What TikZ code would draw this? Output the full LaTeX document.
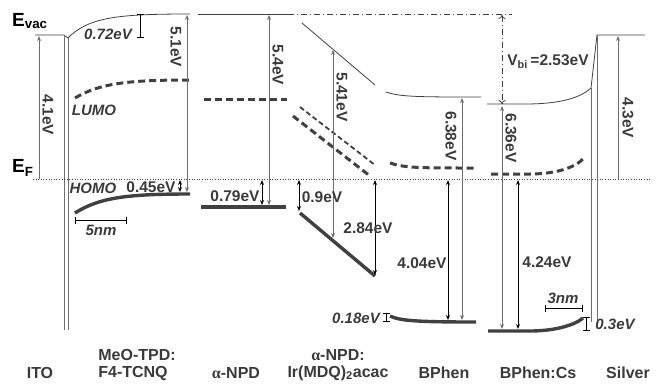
\documentclass[tikz,border=0pt]{standalone}
\usepackage{fontspec}
\setmainfont{Liberation Sans}
\newfontfamily\grk{Liberation Serif}
\usetikzlibrary{arrows.meta}
\definecolor{band}{HTML}{404040}
\definecolor{txt}{HTML}{3A3A3A}
\definecolor{vac}{HTML}{6E6E6E}
\tikzset{
  val/.style={font=\bfseries\fontsize{15.5}{17}\selectfont,text=txt,inner sep=0pt},
  ival/.style={val,font=\bfseries\itshape\fontsize{15}{17}\selectfont},
  rval/.style={val,rotate=-90},
  lyr/.style={font=\bfseries\fontsize{16}{18}\selectfont,text=txt,inner sep=0pt},
  homo/.style={band,line width=3.4pt},
  lumo/.style={band,line width=3pt,dash pattern=on 7pt off 4pt},
  dbl/.style={black,line width=1pt,{Stealth[length=5pt,width=4pt]}-{Stealth[length=5pt,width=4pt]}},
  gdbl/.style={vac,line width=1pt,{Stealth[length=5pt,width=4pt]}-{Stealth[length=5pt,width=4pt]}},
  gup/.style={vac,line width=1pt,-{Stealth[length=5pt,width=4pt]}},
  capbar/.style={black,line width=0.8pt,{Bar[width=7pt]}-{Bar[width=7pt]}},
}
\begin{document}
\begin{tikzpicture}[x=1pt,y=-1pt]
\useasboundingbox (0,0) rectangle (667,384);
% levels
\draw[band,line width=0.8pt] (35,35) -- (64,35) -- (68,38) -- (71,35) .. controls (92,17) and (120,14) .. (190,14);
\draw[band,line width=0.8pt] (198,14) -- (288,14);
\draw[band,line width=0.8pt,dash pattern=on 6pt off 3pt on 1pt off 3pt] (288,14) -- (512,14);
\draw[band,line width=0.8pt] (302,23) -- (375,85);
\draw[band,line width=0.8pt] (386,92) .. controls (400,97) and (420,97) .. (481,97);
\draw[band,line width=0.8pt] (487,104) -- (525,104) .. controls (560,104) and (580,98) .. (591,88) -- (597,35) -- (645,35);
\draw[vac,line width=1pt] (64,35) -- (64,330) (68,38) -- (68,330);
\draw[vac,line width=1pt] (591,88) -- (591,322) (597,35) -- (597,322);
\draw[band,line width=0.6pt,dotted] (33,179) -- (650,179);
\draw[lumo] (75,98) .. controls (100,83) and (130,80) .. (190,80);
\draw[lumo] (204,99) -- (287,99);
\draw[band,line width=1.8pt,dash pattern=on 5pt off 3pt] (300,107) -- (375,165);
\draw[lumo] (293,116) -- (370,176);
\draw[lumo] (390,163) .. controls (405,168) and (420,168) .. (474,168);
\draw[lumo] (491,174) -- (530,174) .. controls (555,174) and (575,168) .. (584,158);
\draw[homo] (75,213) .. controls (100,197) and (130,194) .. (190,194);
\draw[homo] (201,207) -- (286,207);
\draw[homo] (300,213) -- (375,276);
\draw[homo] (390,316) .. controls (400,321) and (420,322) .. (476,322);
\draw[homo] (488,331) -- (530,331) .. controls (555,331) and (575,325) .. (583,318);
% arrows
\draw[gup] (39,179) -- (39,36);
\draw[gdbl] (187,15) -- (187,192);
\draw[gdbl] (269,15) -- (269,205);
\draw[gdbl] (333,50) -- (333,238);
\draw[gdbl] (462,98) -- (462,320);
\draw[gdbl] (502,106) -- (502,329);
\draw[gup] (618,179) -- (618,36);
\draw[dbl] (180,180) -- (180,192);
\draw[dbl] (262,180) -- (262,205);
\draw[dbl] (299,180) -- (299,211);
\draw[dbl] (375,180) -- (375,275);
\draw[dbl] (448,180) -- (448,320);
\draw[dbl] (518,180) -- (518,329);
\draw[band,line width=0.8pt,dash pattern=on 6pt off 3pt on 1pt off 3pt,{To[length=4pt,width=7pt]}-{To[length=4pt,width=7pt]}] (502,15) -- (502,104);
\draw[capbar] (140,14) -- (140,38);
\draw[capbar] (386,313) -- (386,322);
\draw[capbar] (586,317) -- (586,331);
\draw[capbar] (75,220) -- (127,220);
\draw[capbar] (545,308) -- (583,308);
% labels
\node[anchor=west,inner sep=0pt,text=black,font=\bfseries\fontsize{19}{20}\selectfont] (evac) at (12,21) {E\textsubscript{vac}};
\node[anchor=west,inner sep=0pt,text=black,font=\bfseries\fontsize{19}{20}\selectfont] (ef) at (12,168) {E\textsubscript{F}};
\node[rval] (l41) at (48,115) {4.1eV};
\node[ival] (l072) at (108,34) {0.72eV};
\node[rval] (l51) at (176,47) {5.1eV};
\node[ival] (llumo) at (94,110) {LUMO};
\node[ival] (lhomo) at (93,188) {HOMO};
\node[val] (l045) at (151,187) {0.45eV};
\node[ival] (l5nm) at (101,230) {5nm};
\node[val] (l079) at (235,196) {0.79eV};
\node[rval] (l54) at (278,65) {5.4eV};
\node[val] (l09) at (322,197) {0.9eV};
\node[rval] (l541) at (342,97) {5.41eV};
\node[val] (l284) at (368,228) {2.84eV};
\node[ival] (l018) at (356,318) {0.18eV};
\node[val] (l404) at (422,263) {4.04eV};
\node[rval] (l638) at (451,136) {6.38eV};
\node[val] (lvbi) at (548,62) {V\textsubscript{bi}\,=2.53eV};
\node[rval] (l636) at (511,138) {6.36eV};
\node[val] (l424) at (547,262) {4.24eV};
\node[ival] (l3nm) at (563,298) {3nm};
\node[ival] (l03) at (615,324) {0.3eV};
\node[rval] (l43) at (628,118) {4.3eV};
\node[lyr] (ito) at (40,373) {ITO};
\node[lyr] (meo) at (137,355) {MeO-TPD:};
\node[lyr] (f4) at (133,373) {F4-TCNQ};
\node[lyr] (npd) at (236,373) {{\grk α}-NPD};
\node[lyr] (npdb) at (338,355) {{\grk α}-NPD:};
\node[lyr] (ir) at (338,373) {Ir(MDQ)\textsubscript{2}acac};
\node[lyr] (bphen) at (444,373) {BPhen};
\node[lyr] (bcs) at (538,373) {BPhen:Cs};
\node[lyr] (ag) at (628,373) {Silver};
\end{tikzpicture}
\end{document}
